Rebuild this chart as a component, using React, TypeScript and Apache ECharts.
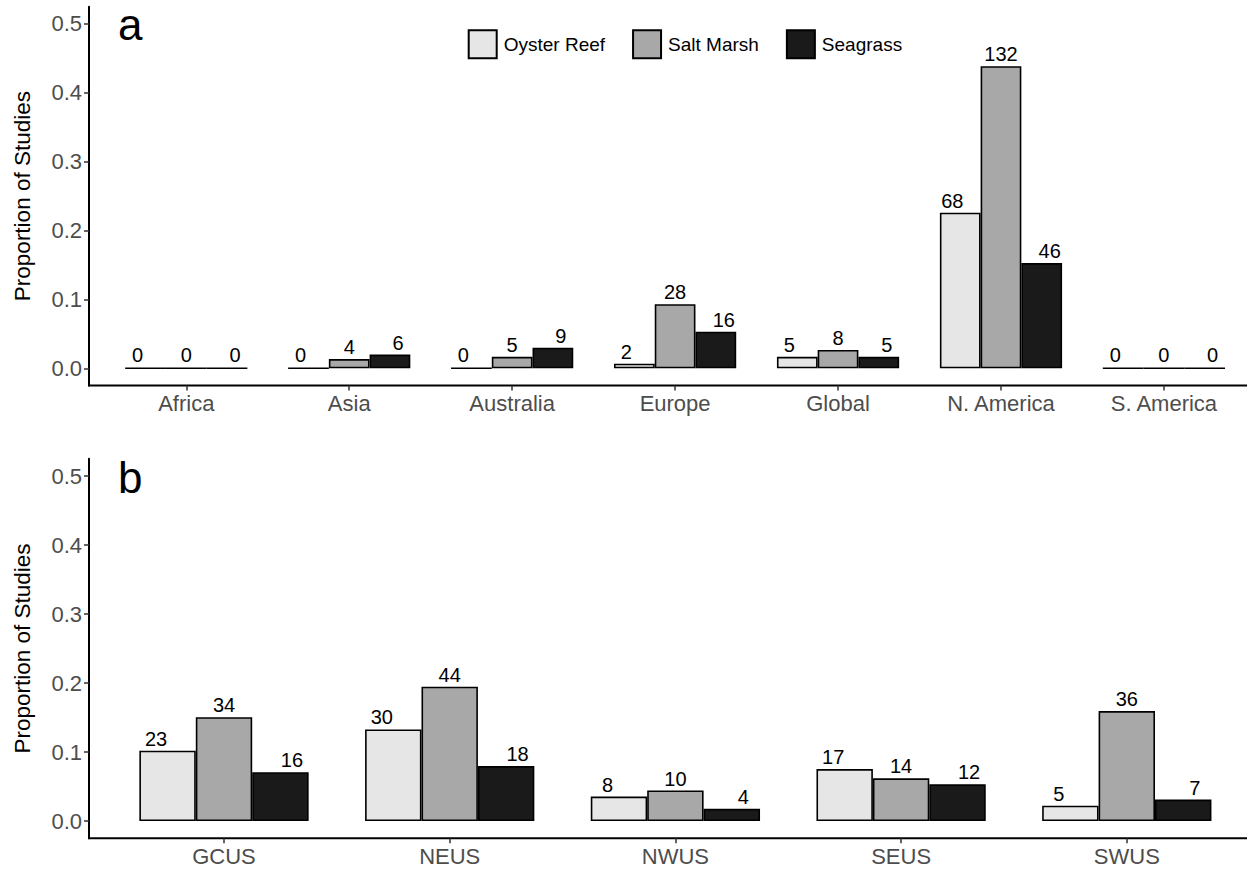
import React, { useEffect, useRef } from "react";
import * as echarts from "echarts";

// ---- data ----
const habitats = ["Oyster Reef", "Salt Marsh", "Seagrass"];
const habitatColors = ["#E6E6E6", "#A8A8A8", "#1A1A1A"];

const continents = ["Africa", "Asia", "Australia", "Europe", "Global", "N. America", "S. America"];
const continentOyster = [0, 0, 0, 0.0066, 0.0166, 0.2259, 0];
const continentSaltMarsh = [0, 0.0133, 0.0166, 0.093, 0.0266, 0.4385, 0];
const continentSeagrass = [0, 0.0199, 0.0299, 0.0532, 0.0166, 0.1528, 0];
const continentOysterN = [0, 0, 0, 2, 5, 68, 0];
const continentSaltMarshN = [0, 4, 5, 28, 8, 132, 0];
const continentSeagrassN = [0, 6, 9, 16, 5, 46, 0];

const regions = ["GCUS", "NEUS", "NWUS", "SEUS", "SWUS"];
const regionOyster = [0.1018, 0.1327, 0.0354, 0.0752, 0.0221];
const regionSaltMarsh = [0.1504, 0.1947, 0.0442, 0.0619, 0.1593];
const regionSeagrass = [0.0708, 0.0796, 0.0177, 0.0531, 0.031];
const regionOysterN = [23, 30, 8, 17, 5];
const regionSaltMarshN = [34, 44, 10, 14, 36];
const regionSeagrassN = [16, 18, 4, 12, 7];

const yTicks = [0, 0.1, 0.2, 0.3, 0.4, 0.5];
const panelLetters = ["a", "b"];
const yTitle = "Proportion of Studies";

const FONT = "'Liberation Sans', Arial, Helvetica, sans-serif";

export default function App() {
  const ref = useRef<HTMLDivElement>(null);

  useEffect(() => {
    if (!ref.current) return;
    const chart = echarts.init(ref.current, null, { renderer: "svg" });

    const panels = [
      {
        cats: continents,
        vals: [continentOyster, continentSaltMarsh, continentSeagrass],
        counts: [continentOysterN, continentSaltMarshN, continentSeagrassN],
        grid: { left: 104.8, top: 6.7, width: 1140.6, height: 378.8 },
        axisX: 89,
        labelShift: 8,
        letterY: 24.1,
      },
      {
        cats: regions,
        vals: [regionOyster, regionSaltMarsh, regionSeagrass],
        counts: [regionOysterN, regionSaltMarshN, regionSeagrassN],
        grid: { left: 111.15, top: 458.75, width: 1128.5, height: 379.5 },
        axisX: 89,
        labelShift: 11.5,
        letterY: 477.1,
      },
    ];

    const grid: any[] = [];
    const xAxis: any[] = [];
    const yAxis: any[] = [];
    const series: any[] = [];
    const graphic: any[] = [];

    panels.forEach((p, i) => {
      grid.push({ ...p.grid, containLabel: false });
      xAxis.push({
        type: "category",
        gridIndex: i,
        data: p.cats,
        axisLine: { show: false, onZero: false },
        axisTick: { show: true, alignWithLabel: true, length: 5, lineStyle: { color: "#333333", width: 1.5 } },
        axisLabel: { color: "#4D4D4D", fontSize: 22, fontFamily: FONT, margin: 7 },
        splitLine: { show: false },
      });
      yAxis.push({
        type: "value",
        gridIndex: i,
        min: -0.025,
        max: 0.525,
        offset: p.grid.left - p.axisX,
        axisLine: { show: true, onZero: false, lineStyle: { color: "#000000", width: 2 } },
        axisTick: { show: true, length: 5, customValues: yTicks, lineStyle: { color: "#333333", width: 1.5 } },
        axisLabel: {
          customValues: yTicks,
          formatter: (v: number) => v.toFixed(1),
          color: "#4D4D4D",
          fontSize: 22,
          fontFamily: FONT,
          margin: 7,
        },
        splitLine: { show: false },
        name: yTitle,
        nameLocation: "middle",
        nameGap: 55,
        nameTextStyle: { fontSize: 22.5, color: "#000000", fontFamily: FONT },
      });
      habitats.forEach((h, k) => {
        series.push({
          type: "bar",
          name: h,
          xAxisIndex: i,
          yAxisIndex: i,
          data: p.vals[k],
          barGap: "0%",
          barCategoryGap: "25%",
          itemStyle: { color: habitatColors[k], borderColor: "#000000", borderWidth: 1.6 },
          label: {
            show: true,
            position: "top",
            distance: 2,
            offset: [(k - 1) * p.labelShift, 0],
            color: "#000000",
            fontSize: 20,
            fontFamily: FONT,
            formatter: (q: any) => String(p.counts[k][q.dataIndex]),
          },
          emphasis: { disabled: true },
        });
      });
      const axisY = p.grid.top + p.grid.height;
      graphic.push({
        type: "line",
        shape: { x1: 88, y1: axisY, x2: 1247, y2: axisY },
        style: { stroke: "#000000", lineWidth: 2 },
        silent: true,
      });
      graphic.push({
        type: "text",
        x: 118,
        y: p.letterY,
        style: {
          text: panelLetters[i],
          fontSize: 44,
          fontFamily: FONT,
          fill: "#000000",
          textAlign: "left",
          textVerticalAlign: "middle",
        },
        silent: true,
      });
    });

    chart.setOption({
      animation: false,
      backgroundColor: "#FFFFFF",
      textStyle: { fontFamily: FONT },
      grid,
      xAxis,
      yAxis,
      series,
      graphic,
      legend: {
        data: habitats,
        left: 462.7,
        top: 24.3,
        itemWidth: 28,
        itemHeight: 28,
        itemGap: 27,
        icon: "rect",
        selectedMode: false,
        textStyle: { fontSize: 19, color: "#000000", fontFamily: FONT, padding: [0, 0, 0, 2] },
      },
      tooltip: { show: false },
    });

    return () => chart.dispose();
  }, []);

  return (
    <div
      ref={ref}
      style={{ position: "absolute", left: 0, top: 0, width: 1247, height: 869, background: "#FFFFFF" }}
    />
  );
}
